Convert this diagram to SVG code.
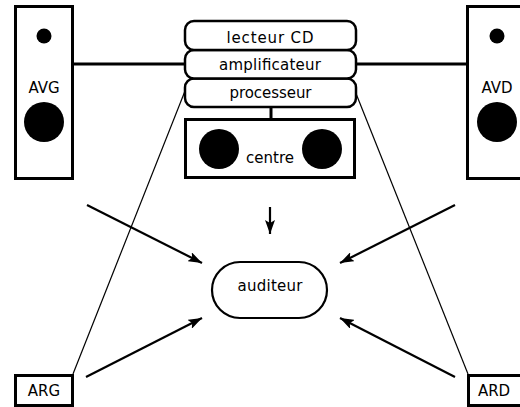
<svg xmlns="http://www.w3.org/2000/svg" width="520" height="407" viewBox="0 0 520 407">
  <style>
    .box { fill: #fff; stroke: #000; stroke-width: 3; }
    .unit { fill: #fff; stroke: #000; stroke-width: 2.5; }
    .lbl { font-family: "DejaVu Sans", "Liberation Sans", sans-serif; font-size: 15px; fill: #000; text-anchor: middle; }
    .wire { stroke: #000; stroke-width: 3; fill: none; }
    .thin { stroke: #000; stroke-width: 1.2; fill: none; }
    .arr { stroke: #000; stroke-width: 2.2; fill: none; marker-end: url(#head); }
  </style>
  <defs>
    <marker id="head" viewBox="0 0 14 10" refX="14" refY="5" markerWidth="14" markerHeight="10" markerUnits="userSpaceOnUse" orient="auto">
      <path d="M0,0 L14,5 L0,10 L3,5 Z" fill="#000"/>
    </marker>
  </defs>

  <!-- connectors -->
  <g id="connectors">
    <line class="wire" x1="73" y1="64" x2="186" y2="64"/>
    <line class="wire" x1="355" y1="64" x2="467" y2="64"/>
    <line class="wire" x1="271" y1="107" x2="271" y2="119"/>
    <line class="thin" x1="185" y1="91" x2="73" y2="374"/>
    <line class="thin" x1="355" y1="91" x2="468" y2="374"/>
    <line class="arr" x1="87" y1="205" x2="202" y2="263"/>
    <line class="arr" x1="86" y1="377" x2="202" y2="318"/>
    <line class="arr" x1="455" y1="205" x2="340" y2="263"/>
    <line class="arr" x1="455" y1="377" x2="340" y2="318"/>
    <line class="arr" x1="270" y1="207" x2="270" y2="234" stroke-width="3"/>
  </g>

  <!-- front left speaker -->
  <g id="AVG">
    <rect class="box" x="15.5" y="6.5" width="57" height="172"/>
    <circle cx="44" cy="36" r="7.5" fill="#000"/>
    <text class="lbl" x="44" y="93">AVG</text>
    <circle cx="44" cy="122" r="20" fill="#000"/>
  </g>

  <!-- front right speaker -->
  <g id="AVD">
    <rect class="box" x="467.5" y="6.5" width="57" height="172"/>
    <circle cx="497" cy="36" r="7.5" fill="#000"/>
    <text class="lbl" x="497" y="93">AVD</text>
    <circle cx="497" cy="122" r="20" fill="#000"/>
  </g>

  <!-- source / amplification stack -->
  <g id="processeur">
    <rect class="unit" x="185" y="78.5" width="171" height="28.5" rx="9"/>
    <text class="lbl" x="270.5" y="98" textLength="82" lengthAdjust="spacing">processeur</text>
  </g>
  <g id="amplificateur">
    <rect class="unit" x="185" y="50" width="171" height="28.5" rx="9"/>
    <text class="lbl" x="270" y="70" textLength="102" lengthAdjust="spacing">amplificateur</text>
  </g>
  <g id="lecteurCD">
    <rect class="unit" x="185" y="21" width="171" height="29" rx="9"/>
    <text class="lbl" x="270" y="43" textLength="87" lengthAdjust="spacing">lecteur CD</text>
  </g>

  <!-- centre speaker -->
  <g id="centre">
    <rect class="box" x="185.5" y="119.5" width="169" height="58"/>
    <circle cx="219" cy="149" r="20" fill="#000"/>
    <circle cx="322" cy="149" r="20" fill="#000"/>
    <text class="lbl" x="270" y="163">centre</text>
  </g>

  <!-- listener -->
  <g id="auditeur">
    <rect x="212" y="262" width="115" height="56" rx="28" ry="28" fill="#fff" stroke="#000" stroke-width="2.2"/>
    <text class="lbl" x="270" y="291" textLength="65" lengthAdjust="spacing">auditeur</text>
  </g>

  <!-- rear speakers -->
  <g id="ARG">
    <rect class="box" x="15.5" y="375.5" width="57" height="30"/>
    <text class="lbl" x="44" y="396">ARG</text>
  </g>
  <g id="ARD">
    <rect class="box" x="468.5" y="375.5" width="57" height="30"/>
    <text class="lbl" x="494" y="396">ARD</text>
  </g>
</svg>
